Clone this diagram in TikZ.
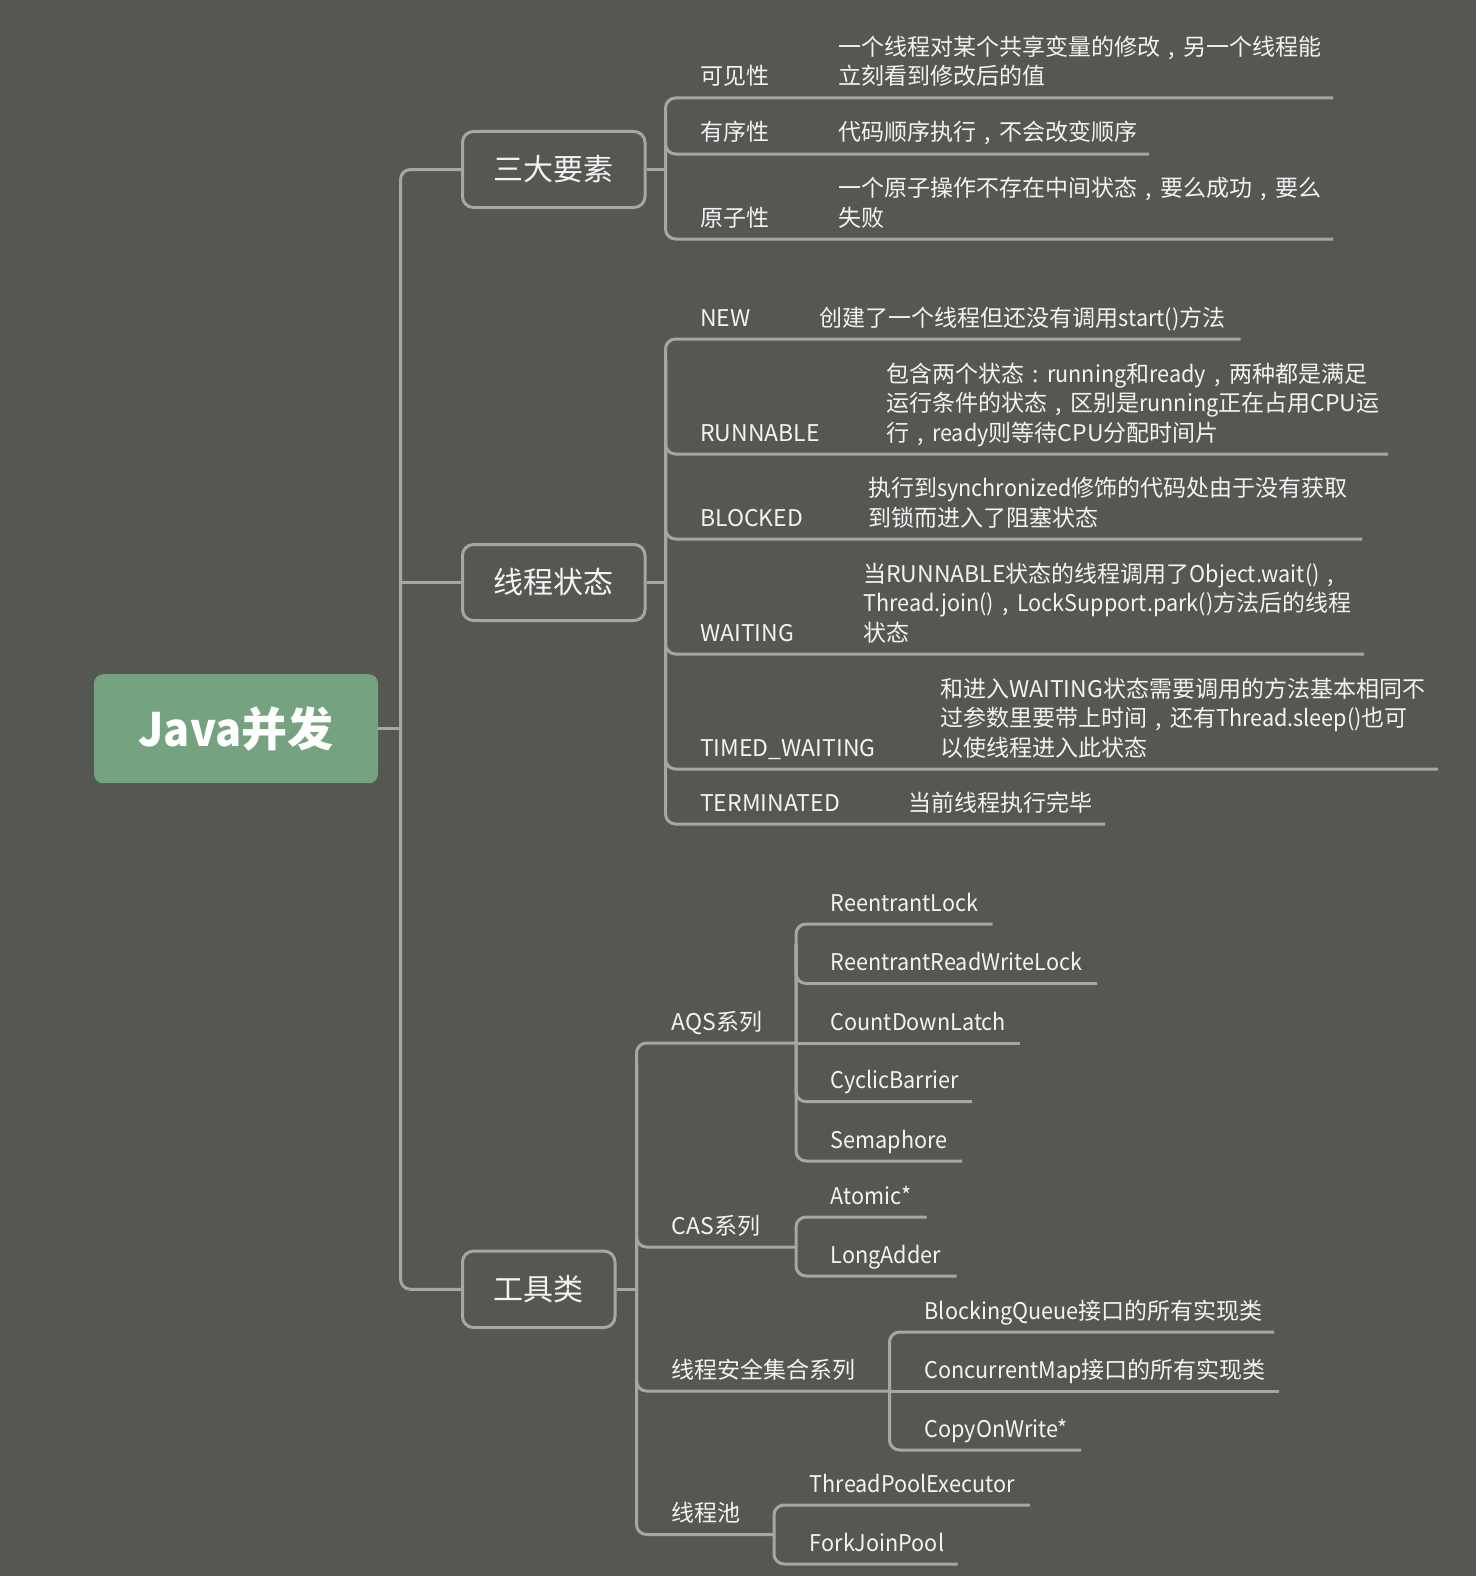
\documentclass[tikz,border=0pt]{standalone}
\usepackage{fontspec}
\setmainfont{Noto Sans CJK SC}
\newfontfamily\latn[FakeStretch=0.94]{Noto Sans CJK SC}
\newcommand\lw[1]{{\latn #1}}
\newcommand\zcomma{\makebox[1em][c]{,}}
\newcommand\zcolon{\makebox[1em][c]{:}}
\usetikzlibrary{calc}
\definecolor{bg}{RGB}{85,87,82}
\definecolor{ln}{RGB}{166,167,162}
\definecolor{tx}{RGB}{243,243,243}
\definecolor{rootfill}{RGB}{117,163,128}
\begin{document}
\begin{tikzpicture}[x=1pt,y=-1pt,
  conn/.style={draw=ln, line width=3pt, rounded corners=10pt},
  topic/.style={draw=ln, line width=3pt, rounded corners=11pt, fill=bg, text=tx, font=\fontsize{30}{36}\selectfont, inner sep=0pt},
  lbl/.style={anchor=base west, inner sep=0pt, text=tx, font=\fontsize{23}{29.5}\selectfont},
]
\useasboundingbox (0,0) rectangle (1476,1576);
\fill[bg] (0,0) rectangle (1476,1576);

% root and topics
\node[fill=rootfill, rounded corners=9pt, minimum width=284pt, minimum height=109pt, inner sep=0pt, text=white, font=\fontsize{46}{50}\selectfont\bfseries] (root) at (236,728.7) {\lw{Java}并发};
\node[topic, minimum width=182.5pt, minimum height=76pt] (b1) at (553.75,169.5) {三大要素};
\node[topic, minimum width=182.5pt, minimum height=76pt] (b2) at (553.75,582.5) {线程状态};
\node[topic, minimum width=152.5pt, minimum height=76.5pt] (b3) at (538.75,1289.3) {工具类};

% branch x positions
\coordinate (spine) at (400.5,0);
\coordinate (br1) at (665.5,0);
\coordinate (br2) at (665.5,0);
\coordinate (br3) at (636.5,0);
\coordinate (s1) at (796,0);
\coordinate (s3) at (889.5,0);
\coordinate (s4) at (774,0);

% main spine
\draw[conn] (b1.west) -| (spine |- b3.west) -- (b3.west);
\draw[conn] (spine |- b2.west) -- (b2.west);
\draw[conn] (root.east) -- (spine |- root.east);

% ---------- group 1
\coordinate (u11) at (1333,98);
\coordinate (u12) at (1149,154);
\coordinate (u13) at (1333,239);
\draw[conn] (b1.east) -- (br1 |- b1.east);
\draw[conn] (u11) -| (br1 |- u13) -- (u13);
\draw[conn] ($(br1 |- u11)+(0,20)$) |- (u12);

\node[lbl] (k11) at (700,85) {可见性};
\node[lbl] (d11a) at (838,55.5) {一个线程对某个共享变量的修改\zcomma 另一个线程能};
\node[lbl] (d11b) at (838,85) {立刻看到修改后的值};
\node[lbl] (k12) at (700,141) {有序性};
\node[lbl] (d12) at (838,141) {代码顺序执行\zcomma 不会改变顺序};
\node[lbl] (k13) at (700,226) {原子性};
\node[lbl] (d13a) at (838,196.5) {一个原子操作不存在中间状态\zcomma 要么成功\zcomma 要么};
\node[lbl] (d13b) at (838,226) {失败};

% ---------- group 2
\coordinate (u21) at (1240.5,339);
\coordinate (u22) at (1388,454);
\coordinate (u23) at (1362,539);
\coordinate (u24) at (1364,654);
\coordinate (u25) at (1438,769);
\coordinate (u26) at (1105,824);
\draw[conn] (b2.east) -- (br2 |- b2.east);
\draw[conn] (u21) -| (br2 |- u26) -- (u26);
\foreach \u in {u22,u23,u24,u25}
  \draw[conn] ($(br2 |- u21)+(0,20)$) |- (\u);

\node[lbl] (k21) at (700,326) {NEW};
\node[lbl] (d21) at (819.7,326) {创建了一个线程但还没有调用\lw{start()}方法};
\node[lbl] (k22) at (700,441) {RUNNABLE};
\node[lbl] (d22a) at (886,382) {包含两个状态\zcolon\lw{running}和\lw{ready}\zcomma 两种都是满足};
\node[lbl] (d22b) at (886,411.5) {运行条件的状态\zcomma 区别是\lw{running}正在占用CPU运};
\node[lbl] (d22c) at (886,441) {行\zcomma\lw{ready}则等待CPU分配时间片};
\node[lbl] (k23) at (700,526) {BLOCKED};
\node[lbl] (d23a) at (868,496.5) {执行到\lw{synchronized}修饰的代码处由于没有获取};
\node[lbl] (d23b) at (868,526) {到锁而进入了阻塞状态};
\node[lbl] (k24) at (700,641) {WAITING};
\node[lbl] (d24a) at (863,582) {当RUNNABLE状态的线程调用了\lw{Object.wait()}\zcomma};
\node[lbl] (d24b) at (863,611.5) {\lw{Thread.join()}\zcomma\lw{LockSupport.park()}方法后的线程};
\node[lbl] (d24c) at (863,641) {状态};
\node[lbl] (k25) at (700,756) {TIMED\_WAITING};
\node[lbl] (d25a) at (940,697) {和进入WAITING状态需要调用的方法基本相同不};
\node[lbl] (d25b) at (940,726.5) {过参数里要带上时间\zcomma 还有\lw{Thread.sleep()}也可};
\node[lbl] (d25c) at (940,756) {以使线程进入此状态};
\node[lbl] (k26) at (700,811) {TERMINATED};
\node[lbl] (d26) at (908,811) {当前线程执行完毕};

% ---------- group 3
\coordinate (ja) at (796,1043);
\coordinate (jc) at (796,1247);
\coordinate (js) at (889.5,1391);
\coordinate (jp) at (774,1534.5);
\draw[conn] (b3.east) -- (br3 |- b3.east);
\draw[conn] (ja) -| (br3 |- jp) -- (jp);
\draw[conn] ($(br3 |- ja)+(0,20)$) |- (jc);
\draw[conn] ($(br3 |- ja)+(0,20)$) |- (js);

\node[lbl] (k31) at (671.5,1030) {AQS系列};
\node[lbl] (k32) at (671.5,1234) {CAS系列};
\node[lbl] (k33) at (671.5,1378) {线程安全集合系列};
\node[lbl] (k34) at (671.5,1521.5) {线程池};

% AQS children
\coordinate (v1) at (992.5,924);
\coordinate (v2) at (1097,983.5);
\coordinate (v3) at (1019.5,1043);
\coordinate (v4) at (972,1101.7);
\coordinate (v5) at (962,1161);
\draw[conn] (v1) -| (s1 |- v5) -- (v5);
\draw[conn] ($(s1 |- v1)+(0,20)$) |- (v2);
\draw[conn] ($(s1 |- v1)+(0,20)$) |- (v4);
\draw[conn] (ja) -- (v3);
\node[lbl] (a1) at (830.5,911) {\lw{ReentrantLock}};
\node[lbl] (a2) at (830.5,970.5) {\lw{ReentrantReadWriteLock}};
\node[lbl] (a3) at (830.5,1030) {\lw{CountDownLatch}};
\node[lbl] (a4) at (830.5,1088.7) {\lw{CyclicBarrier}};
\node[lbl] (a5) at (830.5,1148) {\lw{Semaphore}};

% CAS children
\coordinate (w1) at (926.7,1217);
\coordinate (w2) at (956.7,1276);
\draw[conn] (w1) -| (s1 |- w2) -- (w2);
\node[lbl] (c1) at (830.5,1204) {\lw{Atomic*}};
\node[lbl] (c2) at (830.5,1263) {\lw{LongAdder}};

% thread-safe collections
\coordinate (x1) at (1274,1332);
\coordinate (x2) at (1279,1391);
\coordinate (x3) at (1081,1450);
\draw[conn] (x1) -| (s3 |- x3) -- (x3);
\draw[conn] (js) -- (x2);
\node[lbl] (t1) at (924.5,1319) {\lw{BlockingQueue}接口的所有实现类};
\node[lbl] (t2) at (924.5,1378) {\lw{ConcurrentMap}接口的所有实现类};
\node[lbl] (t3) at (924.5,1437) {\lw{CopyOnWrite*}};

% thread pools
\coordinate (y1) at (1030,1505);
\coordinate (y2) at (957.6,1564);
\draw[conn] (y1) -| (s4 |- y2) -- (y2);
\node[lbl] (p1) at (809.7,1492) {\lw{ThreadPoolExecutor}};
\node[lbl] (p2) at (809.7,1551) {\lw{ForkJoinPool}};
\end{tikzpicture}
\end{document}
